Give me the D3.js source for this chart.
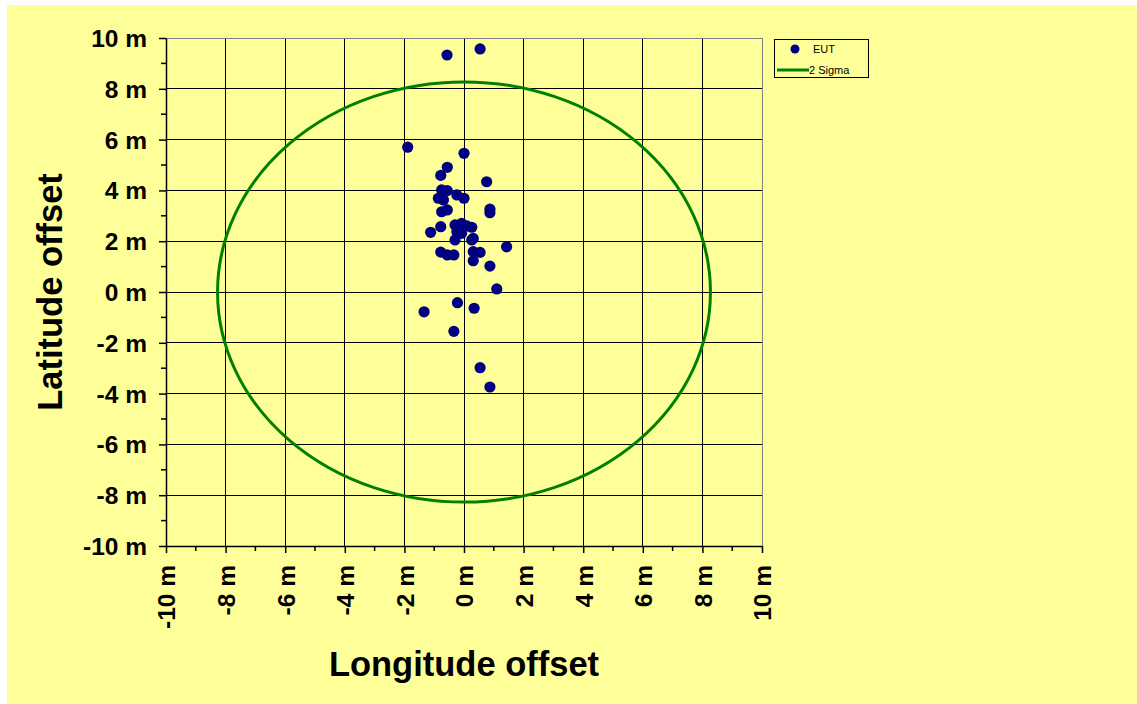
<!DOCTYPE html>
<html>
<head>
<meta charset="utf-8">
<script src="https://cdn.jsdelivr.net/npm/d3@7"></script>
<style>
  html, body { margin: 0; padding: 0; background: #ffffff; overflow: hidden; }
  svg { display: block; }
  text { font-family: "Liberation Sans", Arial, sans-serif; }
</style>
</head>
<body>
<script>
// Horizontal position error of each fix, metres (east, north)
const lonOffset = [-0.57, 0.54, -1.89, 0, -0.56, -0.78, 0.76, -0.75, -0.56, -0.86,
  -0.69, -0.24, 0, -0.75, -0.56, 0.87, 0.87, -0.78, -1.12, -0.30,
  -0.08, 0.09, 0.26, -0.24, -0.08, -0.30, 0.31, 0.26, 1.43, -0.78,
  -0.56, -0.34, 0.31, 0.54, 0.31, 0.87, 1.10, -0.22, -1.34, 0.34,
  -0.34, 0.54, 0.87];
const latOffset = [9.33, 9.57, 5.70, 5.46, 4.91, 4.59, 4.34, 4.02, 3.99, 3.69,
  3.62, 3.82, 3.69, 3.16, 3.23, 3.26, 3.12, 2.57, 2.35, 2.64,
  2.70, 2.60, 2.55, 2.37, 2.31, 2.05, 2.11, 2.05, 1.78, 1.57,
  1.46, 1.46, 1.59, 1.56, 1.23, 1.02, 0.12, -0.42, -0.78, -0.64,
  -1.55, -2.98, -3.74];
// 2-sigma radius, metres
const sigma2Radius = [8.27];
const tickValues = [-10, -8, -6, -4, -2, 0, 2, 4, 6, 8, 10];
const minorTickValues = [-9, -7, -5, -3, -1, 1, 3, 5, 7, 9];
const legendLabels = ["EUT", "2 Sigma"];
const axisTitles = { x: "Longitude offset", y: "Latitude offset" };

const W = 1137, H = 704;
const plot = { left: 166, top: 38, right: 762, bottom: 546 };

const svg = d3.select("body").append("svg").attr("width", W).attr("height", H);

svg.append("rect").attr("x", 7).attr("y", 5).attr("width", W).attr("height", H)
  .attr("fill", "#ffff99");

const x = d3.scaleLinear().domain([-10, 10]).range([plot.left, plot.right]);
const y = d3.scaleLinear().domain([-10, 10]).range([plot.bottom, plot.top]);

// grid
const grid = svg.append("g").attr("shape-rendering", "crispEdges");
grid.selectAll("line.v").data(tickValues.slice(1, -1)).join("line")
  .attr("x1", d => x(d)).attr("x2", d => x(d))
  .attr("y1", plot.top).attr("y2", plot.bottom)
  .attr("stroke", "#000").attr("stroke-width", 1);
grid.selectAll("line.h").data(tickValues.slice(1, -1)).join("line")
  .attr("y1", d => y(d)).attr("y2", d => y(d))
  .attr("x1", plot.left).attr("x2", plot.right)
  .attr("stroke", "#000").attr("stroke-width", 1);
// top and right frame
grid.append("line").attr("x1", plot.left).attr("x2", plot.right)
  .attr("y1", plot.top).attr("y2", plot.top).attr("stroke", "#808080");
grid.append("line").attr("x1", plot.right).attr("x2", plot.right)
  .attr("y1", plot.top).attr("y2", plot.bottom).attr("stroke", "#808080");

// 2-sigma circle
svg.selectAll("ellipse.sigma").data(sigma2Radius).join("ellipse")
  .attr("cx", x(0)).attr("cy", y(0))
  .attr("rx", d => x(d) - x(0)).attr("ry", d => y(0) - y(d))
  .attr("fill", "none").attr("stroke", "#008000").attr("stroke-width", 3);

// axes
const fmt = d => d + " m";
const xAxis = svg.append("g").attr("transform", `translate(0,${plot.bottom})`)
  .call(d3.axisBottom(x).tickValues(tickValues).tickFormat(fmt).tickSize(7).tickSizeOuter(0));
const yAxis = svg.append("g").attr("transform", `translate(${plot.left},0)`)
  .call(d3.axisLeft(y).tickValues(tickValues).tickFormat(fmt).tickSize(7).tickSizeOuter(0));
[xAxis, yAxis].forEach(a => {
  a.select(".domain").attr("stroke", "#000").attr("stroke-width", 1.5);
  a.selectAll(".tick line").attr("stroke", "#000").attr("stroke-width", 1.5);
  a.selectAll("text").attr("font-size", 24.5).attr("font-weight", "bold")
    .attr("fill", "#000").attr("font-family", "'Liberation Sans', Arial, sans-serif");
});
yAxis.selectAll("text").attr("x", -19).attr("dy", "0.35em");
xAxis.selectAll("text")
  .attr("transform", "rotate(-90)")
  .attr("text-anchor", "end")
  .attr("x", -19).attr("y", 0).attr("dy", "0.36em");

// minor ticks
svg.append("g").selectAll("line").data(minorTickValues).join("line")
  .attr("x1", d => x(d)).attr("x2", d => x(d))
  .attr("y1", plot.bottom).attr("y2", plot.bottom + 5)
  .attr("stroke", "#000").attr("stroke-width", 1.5);
svg.append("g").selectAll("line").data(minorTickValues).join("line")
  .attr("y1", d => y(d)).attr("y2", d => y(d))
  .attr("x1", plot.left - 5).attr("x2", plot.left)
  .attr("stroke", "#000").attr("stroke-width", 1.5);

// fixes
const pts = lonOffset.map((lon, i) => ({ lon, lat: latOffset[i] }));
svg.append("g").selectAll("circle").data(pts).join("circle")
  .attr("cx", d => x(d.lon)).attr("cy", d => y(d.lat)).attr("r", 5.6)
  .attr("fill", "#000080");

// axis titles
svg.append("text").attr("x", (plot.left + plot.right) / 2).attr("y", 676)
  .attr("text-anchor", "middle").attr("font-size", 34.5).attr("font-weight", "bold")
  .text(axisTitles.x);
svg.append("text").attr("transform", `translate(62,${(plot.top + plot.bottom) / 2}) rotate(-90)`)
  .attr("text-anchor", "middle").attr("font-size", 34.5).attr("font-weight", "bold")
  .text(axisTitles.y);

// legend
const lg = svg.append("g").attr("transform", "translate(774,39)");
lg.append("rect").attr("width", 94).attr("height", 38)
  .attr("fill", "#ffff99").attr("stroke", "#000").attr("stroke-width", 1)
  .attr("shape-rendering", "crispEdges");
lg.append("circle").attr("cx", 21).attr("cy", 10).attr("r", 4.5).attr("fill", "#000080");
lg.append("line").attr("x1", 3).attr("x2", 35).attr("y1", 31).attr("y2", 31)
  .attr("stroke", "#008000").attr("stroke-width", 3);
lg.selectAll("text.lab").data(legendLabels).join("text")
  .attr("x", (d, i) => i === 0 ? 39 : 35)
  .attr("y", (d, i) => i === 0 ? 10 : 31)
  .attr("dy", "0.35em").attr("font-size", 11).attr("fill", "#000")
  .text(d => d);
</script>
</body>
</html>
